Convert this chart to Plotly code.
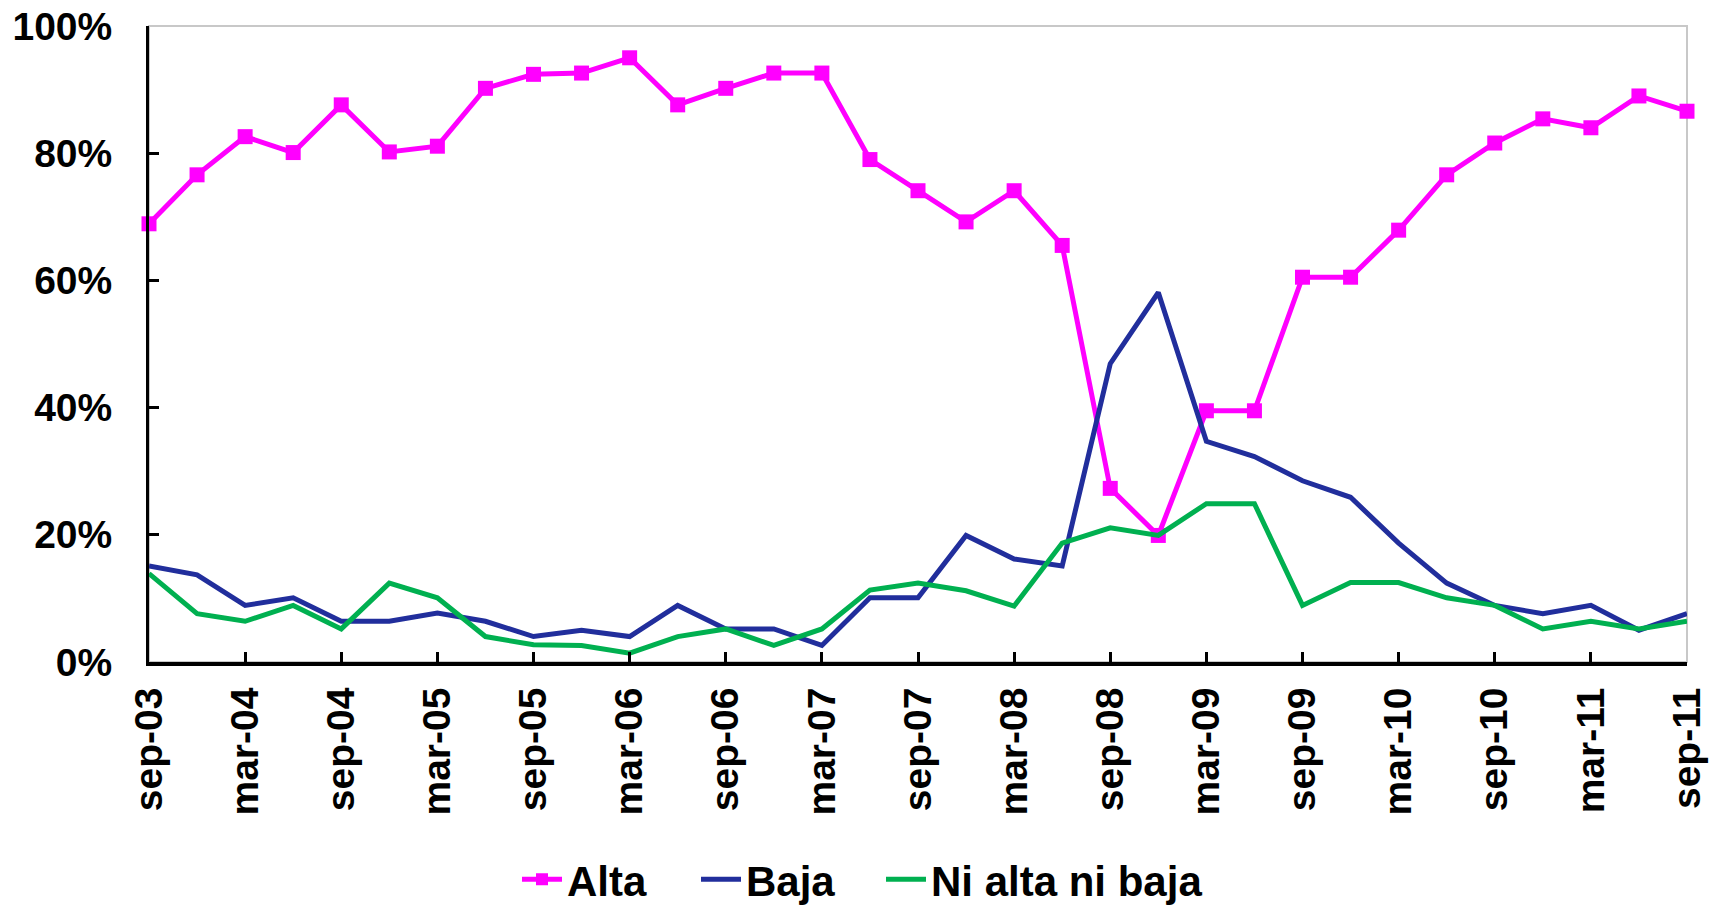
import plotly.graph_objects as go

periods = ["sep-03", "dic-03", "mar-04", "jun-04", "sep-04", "dic-04", "mar-05", "jun-05",
           "sep-05", "dic-05", "mar-06", "jun-06", "sep-06", "dic-06", "mar-07", "jun-07",
           "sep-07", "dic-07", "mar-08", "jun-08", "sep-08", "dic-08", "mar-09", "jun-09",
           "sep-09", "dic-09", "mar-10", "jun-10", "sep-10", "dic-10", "mar-11", "jun-11",
           "sep-11"]

alta = [68.9, 76.6, 82.6, 80.1, 87.6, 80.2, 81.1, 90.2, 92.4, 92.6, 95.0, 87.6, 90.2, 92.6,
        92.6, 79.0, 74.1, 69.2, 74.1, 65.5, 27.3, 19.9, 39.5, 39.5, 60.5, 60.5, 67.9, 76.6,
        81.6, 85.4, 84.0, 89.0, 86.6]
baja = [15.1, 13.7, 8.9, 10.1, 6.4, 6.4, 7.7, 6.4, 4.0, 5.0, 4.0, 8.9, 5.2, 5.2, 2.6, 10.1,
        10.1, 19.9, 16.2, 15.1, 46.9, 58.1, 34.7, 32.3, 28.5, 25.9, 18.7, 12.4, 8.9, 7.6, 8.9,
        5.0, 7.6]
ni = [13.9, 7.6, 6.4, 8.9, 5.2, 12.4, 10.1, 4.0, 2.7, 2.6, 1.4, 4.0, 5.2, 2.6, 5.2, 11.3,
      12.4, 11.2, 8.8, 18.7, 21.1, 19.9, 24.9, 24.9, 8.9, 12.5, 12.5, 10.1, 8.9, 5.2, 6.4,
      5.2, 6.4]

series_names = ["Alta", "Baja", "Ni alta ni baja"]
y_ticks = [0, 20, 40, 60, 80, 100]
x_tick_labels = periods[::2]

FONT = "Liberation Sans, Arial, sans-serif"

fig = go.Figure()
fig.add_trace(go.Scatter(x=periods, y=alta, name=series_names[0], mode="lines+markers",
                         line=dict(color="#FF00FF", width=5),
                         marker=dict(symbol="square", size=15, color="#FF00FF"),
                         cliponaxis=False, legend="legend"))
fig.add_trace(go.Scatter(x=periods, y=baja, name=series_names[1], mode="lines",
                         line=dict(color="#212E9C", width=5), cliponaxis=False,
                         legend="legend2"))
fig.add_trace(go.Scatter(x=periods, y=ni, name=series_names[2], mode="lines",
                         line=dict(color="#00B050", width=5), cliponaxis=False,
                         legend="legend3"))

fig.add_shape(type="rect", xref="paper", yref="paper", x0=0, x1=1, y0=0, y1=1,
              line=dict(color="#C8C8C8", width=2), layer="below")

leg_common = dict(orientation="h", xref="container", yref="container", y=0.037,
                  xanchor="left", yanchor="middle", bgcolor="rgba(0,0,0,0)",
                  font=dict(size=42, family=FONT, weight="bold"),
                  itemwidth=40, tracegroupgap=0, itemsizing="constant")

fig.update_layout(
    width=1717, height=905,
    margin=dict(l=141, r=38, t=18, b=251, autoexpand=False),
    plot_bgcolor="white", paper_bgcolor="white",
    font=dict(family=FONT, color="black", size=38, weight="bold"),
    showlegend=True,
    legend=dict(leg_common, x=509 / 1717),
    legend2=dict(leg_common, x=688 / 1717),
    legend3=dict(leg_common, x=873 / 1717),
)
fig.update_xaxes(
    type="category", range=[0, len(periods) - 1], automargin=False,
    tickmode="array", tickvals=x_tick_labels, ticktext=x_tick_labels,
    tickangle=-90, ticks="inside", ticklen=10, tickwidth=3, tickcolor="black",
    showline=True, linecolor="black", linewidth=4, showgrid=False, zeroline=False,
    tickfont=dict(size=39, family=FONT, weight="bold"), ticklabelstandoff=6,
    ticklabeloverflow="allow",
)
fig.update_yaxes(
    range=[0, 100], automargin=False, tickmode="array", tickvals=y_ticks,
    ticktext=[f"{v}%" for v in y_ticks],
    ticks="inside", ticklen=10, tickwidth=3, tickcolor="black",
    showline=True, linecolor="black", linewidth=3, showgrid=False, zeroline=False,
    tickfont=dict(size=39, family=FONT, weight="bold"), ticklabelstandoff=26,
    ticklabeloverflow="allow",
)

fig.write_html("out.html")
